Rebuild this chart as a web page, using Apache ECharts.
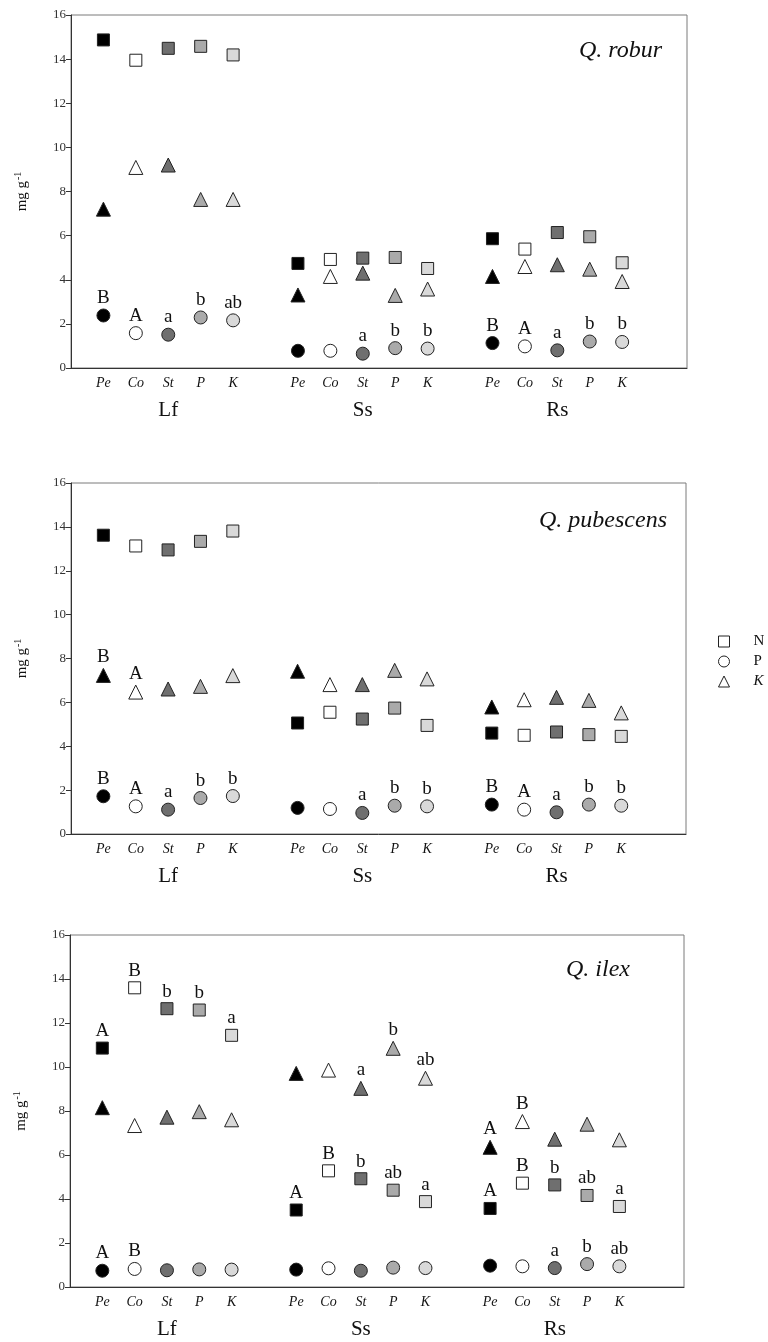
<!DOCTYPE html>
<html>
<head>
<meta charset="utf-8">
<script src="https://cdn.jsdelivr.net/npm/echarts@6/dist/echarts.min.js"></script>
<style>html,body{margin:0;padding:0;background:#fff;}#chart{width:768px;height:1342px;}</style>
</head>
<body>
<div id="chart"></div>
<script>
// ---- categories ----
const organs = ['Lf', 'Ss', 'Rs'];
const treatments = ['Pe', 'Co', 'St', 'P', 'K'];
// x slots: blank spacers between organ groups
const xCategories = ['_a',
  'Lf-Pe', 'Lf-Co', 'Lf-St', 'Lf-P', 'Lf-K', '_b',
  'Ss-Pe', 'Ss-Co', 'Ss-St', 'Ss-P', 'Ss-K', '_c',
  'Rs-Pe', 'Rs-Co', 'Rs-St', 'Rs-P', 'Rs-K', '_d', '_e'];
const yTicks = [0, 2, 4, 6, 8, 10, 12, 14, 16];
const speciesNames = ['Q. robur', 'Q. pubescens', 'Q. ilex'];
const nutrientNames = ['N', 'P', 'K'];

// ---- values (mg g-1), order: Lf Pe..K, Ss Pe..K, Rs Pe..K ----
const roburN = [14.87, 13.95, 14.49, 14.58, 14.19, 4.74, 4.92, 4.98, 5.01, 4.51, 5.86, 5.39, 6.14, 5.95, 4.77];
const roburP = [2.38, 1.58, 1.51, 2.29, 2.16, 0.78, 0.78, 0.65, 0.90, 0.88, 1.13, 0.98, 0.80, 1.20, 1.18];
const roburK = [7.20, 9.09, 9.20, 7.64, 7.64, 3.31, 4.15, 4.30, 3.29, 3.58, 4.15, 4.60, 4.68, 4.48, 3.92];
const roburNLetters = ['', '', '', '', '', '', '', '', '', '', '', '', '', '', ''];
const roburPLetters = ['B', 'A', 'a', 'b', 'ab', '', '', 'a', 'b', 'b', 'B', 'A', 'a', 'b', 'b'];
const roburKLetters = ['', '', '', '', '', '', '', '', '', '', '', '', '', '', ''];

const pubescensN = [13.62, 13.13, 12.95, 13.34, 13.81, 5.06, 5.55, 5.24, 5.74, 4.95, 4.60, 4.50, 4.65, 4.53, 4.45];
const pubescensP = [1.72, 1.26, 1.11, 1.64, 1.73, 1.19, 1.14, 0.96, 1.29, 1.26, 1.34, 1.11, 0.99, 1.34, 1.29];
const pubescensK = [7.23, 6.47, 6.61, 6.73, 7.22, 7.42, 6.81, 6.81, 7.46, 7.07, 5.79, 6.12, 6.23, 6.09, 5.52];
const pubescensNLetters = ['', '', '', '', '', '', '', '', '', '', '', '', '', '', ''];
const pubescensPLetters = ['B', 'A', 'a', 'b', 'b', '', '', 'a', 'b', 'b', 'B', 'A', 'a', 'b', 'b'];
const pubescensKLetters = ['B', 'A', '', '', '', '', '', '', '', '', '', '', '', '', ''];

const ilexN = [10.86, 13.60, 12.65, 12.59, 11.44, 3.50, 5.28, 4.92, 4.40, 3.88, 3.57, 4.72, 4.64, 4.16, 3.66];
const ilexP = [0.74, 0.82, 0.76, 0.80, 0.79, 0.79, 0.85, 0.74, 0.88, 0.86, 0.97, 0.94, 0.86, 1.04, 0.94];
const ilexK = [8.15, 7.34, 7.72, 7.97, 7.60, 9.71, 9.86, 9.03, 10.85, 9.49, 6.35, 7.52, 6.72, 7.40, 6.69];
const ilexNLetters = ['A', 'B', 'b', 'b', 'a', 'A', 'B', 'b', 'ab', 'a', 'A', 'B', 'b', 'ab', 'a'];
const ilexPLetters = ['A', 'B', '', '', '', '', '', '', '', '', '', '', 'a', 'b', 'ab'];
const ilexKLetters = ['', '', '', '', '', '', '', 'a', 'b', 'ab', 'A', 'B', '', '', ''];

// ---- styles ----
const SERIF = '"Liberation Serif", "DejaVu Serif", serif';
const treatmentFill = { Pe: '#000000', Co: '#ffffff', St: '#6f6f6f', P: '#aaaaaa', K: '#d9d9d9' };
const nutrientSymbol = { N: 'rect', P: 'circle', K: 'triangle' };
const nutrientSize = { N: 12, P: 13, K: 14 };
const grids = [
  { left: 71, right: 81, top: 15, height: 353 },
  { left: 71, right: 82, top: 483, height: 351 },
  { left: 70, right: 84, top: 935, height: 352 }
];
const titlePos = [
  { right: 106, top: 39 },
  { right: 101, top: 509 },
  { right: 138, top: 958 }
];

const speciesData = [
  { N: [roburN, roburNLetters], P: [roburP, roburPLetters], K: [roburK, roburKLetters] },
  { N: [pubescensN, pubescensNLetters], P: [pubescensP, pubescensPLetters], K: [pubescensK, pubescensKLetters] },
  { N: [ilexN, ilexNLetters], P: [ilexP, ilexPLetters], K: [ilexK, ilexKLetters] }
];

const option = {
  backgroundColor: '#ffffff',
  animation: false,
  title: speciesNames.map((s, i) => ({
    text: s,
    right: titlePos[i].right,
    top: titlePos[i].top,
    padding: 0,
    textStyle: { fontFamily: SERIF, fontStyle: 'italic', fontWeight: 'normal', fontSize: 24, color: '#111' }
  })),
  legend: {
    orient: 'vertical',
    left: 718,
    top: 634,
    padding: 0,
    itemWidth: 11,
    itemHeight: 11,
    itemGap: 5,
    data: nutrientNames,
    itemStyle: { borderWidth: 1, borderColor: '#222', color: '#ffffff' },
    formatter: n => n === 'K' ? '{i|K}' : '{n|' + n + '}',
    textStyle: {
      fontFamily: SERIF, fontSize: 15, color: '#111',
      rich: {
        n: { fontFamily: SERIF, fontSize: 15, color: '#111', padding: [0, 0, 0, 19] },
        i: { fontFamily: SERIF, fontSize: 15, color: '#111', fontStyle: 'italic', padding: [0, 0, 0, 19] }
      }
    }
  },
  grid: grids.map(g => ({
    left: g.left, right: g.right, top: g.top, height: g.height,
    show: true, borderColor: '#7a7a7a', borderWidth: 1, containLabel: false
  })),
  xAxis: [],
  yAxis: [],
  series: []
};

grids.forEach((g, gi) => {
  option.xAxis.push({
    type: 'category', gridIndex: gi, data: xCategories, boundaryGap: false,
    axisLine: { show: true, lineStyle: { color: '#333', width: 1 } },
    axisTick: { show: false },
    axisLabel: {
      interval: 0, margin: 8,
      formatter: v => v.charAt(0) === '_' ? '' : v.split('-')[1],
      fontFamily: SERIF, fontStyle: 'italic', fontSize: 14, color: '#111'
    },
    splitLine: { show: false }
  });
  option.xAxis.push({
    type: 'category', gridIndex: gi, data: xCategories, boundaryGap: false,
    position: 'bottom', offset: 24,
    axisLine: { show: false }, axisTick: { show: false },
    axisLabel: {
      interval: 0, margin: 8,
      formatter: v => v.endsWith('-St') ? v.split('-')[0] : '',
      fontFamily: SERIF, fontSize: 21, color: '#111'
    },
    splitLine: { show: false }
  });
  option.yAxis.push({
    type: 'value', gridIndex: gi, min: yTicks[0], max: yTicks[yTicks.length - 1], interval: 2,
    name: '{a|mg g}{b|-1}',
    nameLocation: 'middle', nameGap: 40, nameRotate: 90,
    nameTextStyle: {
      rich: {
        a: { fontFamily: SERIF, fontSize: 15, color: '#111' },
        b: { fontFamily: SERIF, fontSize: 10, color: '#111', padding: [0, 0, 8, 1] }
      }
    },
    axisLine: { show: true, lineStyle: { color: '#333', width: 1 } },
    axisTick: { show: true, length: 5, lineStyle: { color: '#333' } },
    axisLabel: { margin: 5, fontFamily: SERIF, fontSize: 13, color: '#333' },
    splitLine: { show: false }
  });
  const sd = speciesData[gi];
  nutrientNames.forEach(nut => {
    const [vals, letters] = sd[nut];
    const data = vals.map((v, i) => {
      const organ = organs[Math.floor(i / treatments.length)];
      const tr = treatments[i % treatments.length];
      return {
        value: [organ + '-' + tr, v],
        letter: letters[i],
        itemStyle: { color: treatmentFill[tr] }
      };
    });
    option.series.push({
      name: nut,
      type: 'scatter',
      xAxisIndex: gi * 2,
      yAxisIndex: gi,
      symbol: nutrientSymbol[nut],
      symbolSize: nutrientSize[nut],
      itemStyle: { color: '#ffffff', borderColor: '#222', borderWidth: 1, opacity: 1 },
      label: {
        show: true, position: 'top', distance: 1,
        formatter: p => p.data.letter,
        fontFamily: SERIF, fontSize: 19, color: '#111'
      },
      emphasis: { disabled: true },
      data: data
    });
  });
});

const chart = echarts.init(document.getElementById('chart'), null, { renderer: 'canvas' });
chart.setOption(option);
</script>
</body>
</html>
